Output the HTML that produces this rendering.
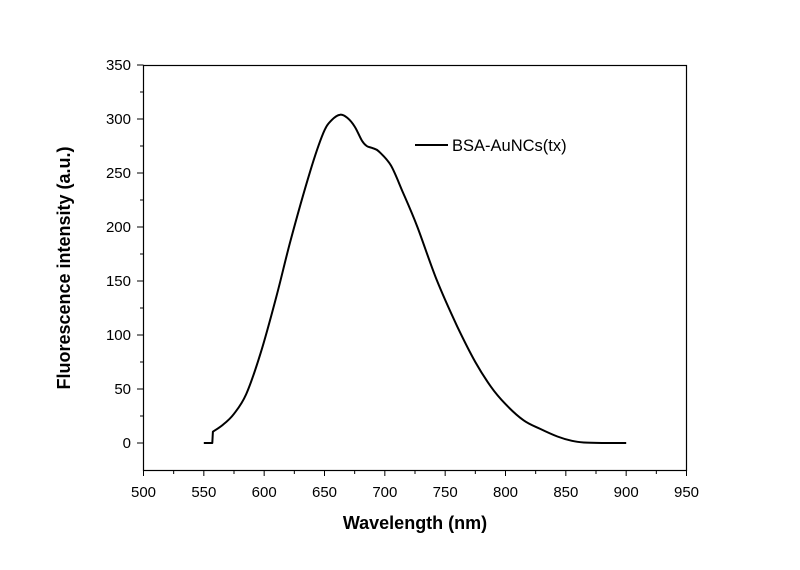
<!DOCTYPE html>
<html><head><meta charset="utf-8"><style>
body{margin:0;background:#fff}
svg text{font-family:"Liberation Sans",Arial,sans-serif;fill:#000}
</style></head><body>
<svg id="chart" width="800" height="565">
<rect x="143.5" y="65.5" width="543" height="405" fill="none" stroke="#000" stroke-width="1.2"/>
<g id="axes"></g>
<path id="curve" fill="none" stroke="#000" stroke-width="2" stroke-linejoin="round"/>
<line x1="415" y1="145" x2="448" y2="145" stroke="#000" stroke-width="2"/>
<text x="452" y="151" font-size="16.5">BSA-AuNCs(tx)</text>
<text x="415" y="529" font-size="18" font-weight="bold" text-anchor="middle">Wavelength (nm)</text>
<text transform="translate(70,268) rotate(-90)" font-size="18" font-weight="bold" text-anchor="middle">Fluorescence intensity (a.u.)</text>
</svg>
<script>
const wavelengths=[550,557,557.5,566,575,585,597,610,622,638,649,656,663,669,675,681,685,690,695,705,715,727,743,760,775,788,800,815,829,843,855,865,880,900];
const intensity=[0,0,10.5,17,27,45,83,135,188,251,287,299,304,301,293,280,275,273,270,257,232,200,151,108,75,52,36,21,13,6,2,0.5,0,0];
const xTicks=[500,550,600,650,700,750,800,850,900,950];
const yTicks=[0,50,100,150,200,250,300,350];
const X=v=>143.5+(v-500)*543/450;
const Y=v=>443-(v)*378/350;
const ns="http://www.w3.org/2000/svg";
const ax=document.getElementById('axes');
function mk(t,a){const e=document.createElementNS(ns,t);for(const k in a)e.setAttribute(k,a[k]);ax.appendChild(e);return e;}
xTicks.forEach((v,i)=>{
 const l=mk('line',{x1:X(v),x2:X(v),y1:470.5,y2:476,stroke:'#000'});
 
 
 if(i<xTicks.length-1){const m=mk('line',{x1:X(v+25),x2:X(v+25),y1:470.5,y2:474,stroke:'#000'});
 
 }
 const t=mk('text',{x:X(v),y:497,'font-size':15,'text-anchor':'middle'});t.textContent=v;
 
 
});
yTicks.forEach((v,i)=>{
 const l=mk('line',{x1:137,x2:143.5,y1:Y(v),y2:Y(v),stroke:'#000'});
 
 
 if(i<yTicks.length-1){const m=mk('line',{x1:140,x2:143.5,y1:Y(v+25),y2:Y(v+25),stroke:'#000'});
 
 }
 const t=mk('text',{x:131,y:Y(v)+5,'font-size':15,'text-anchor':'end'});t.textContent=v;
 
 
});
const P=wavelengths.map((w,i)=>[X(w),Y(intensity[i])]);
let d='M'+P[0][0].toFixed(1)+','+P[0][1].toFixed(1)+'L'+P[1][0].toFixed(1)+','+P[1][1].toFixed(1)+'L'+P[2][0].toFixed(1)+','+P[2][1].toFixed(1);
for(let i=2;i<P.length-1;i++){
 const p0=P[i-1]||P[i],p1=P[i],p2=P[i+1],p3=P[i+2]||p2;
 const a=i===2?p1:p0;
 const c1=[p1[0]+(p2[0]-a[0])/6,p1[1]+(p2[1]-a[1])/6];
 const c2=[p2[0]-(p3[0]-p1[0])/6,p2[1]-(p3[1]-p1[1])/6];
 d+='C'+c1.map(n=>n.toFixed(1))+' '+c2.map(n=>n.toFixed(1))+' '+p2.map(n=>n.toFixed(1));
}
document.getElementById('curve').setAttribute('d',d);
</script>
</body></html>
